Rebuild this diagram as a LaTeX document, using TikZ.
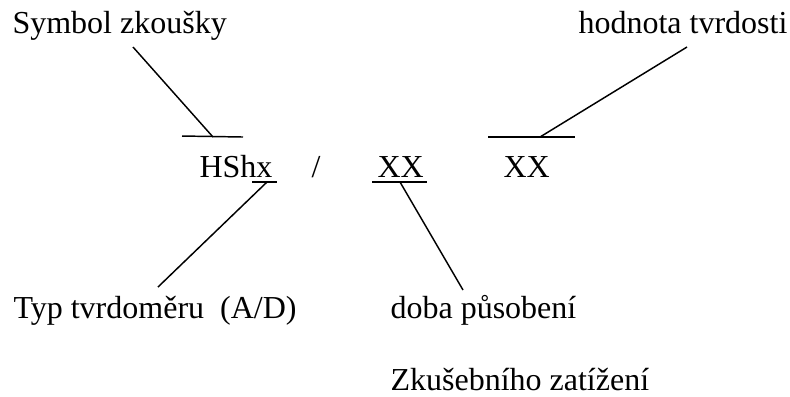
\documentclass[tikz,border=0pt]{standalone}
\usepackage{fontspec}
\setmainfont{LiberationSerif-Regular.ttf}
\usepackage{tikz}
\usetikzlibrary{positioning}

\begin{document}
\begin{tikzpicture}[
    x=0.375pt, y=-0.375pt,
    every node/.style={
        inner sep=0pt, anchor=base west,
        font=\fontsize{12}{14}\selectfont
    },
    mark line/.style={line width=0.55pt}
]
    \useasboundingbox (0,0) rectangle (790,396);
    % labels
    \node (sym) at (12,33) {Symbol zkoušky};
    \node (hod) at (578,33) {hodnota tvrdosti};
    \node (typ) at (13,318) {Typ tvrdoměru~~(A/D)};
    \node (doba) at (390,318) {doba působení};
    \node (zat) at (390,390) {Zkušebního zatížení};
    % the designation itself
    \node (hs) at (199,177) {HShx};
    \node (sl) at (311,177) {/};
    \node (xa) at (377,177) {XX};
    \node (xb) at (503,177) {XX};
    % bars and where the leaders meet them
    \coordinate (symA) at (133,47);
    \coordinate (symJ) at (213,137);
    \coordinate (hodA) at (687,47);
    \coordinate (hodJ) at (540,137);
    \coordinate (typA) at (158,287);
    \coordinate (typJ) at (267,182);
    \coordinate (dobaA) at (463,290);
    \coordinate (dobaJ) at (400,182);
    \draw[mark line] (182,136) -- (243,137);
    \draw[mark line] (488,137) -- (575,137);
    \draw[mark line] (252,182) -- (277,182);
    \draw[mark line] (372,182) -- (427,182);
    \draw[mark line] (symA) -- (symJ);
    \draw[mark line] (hodA) -- (hodJ);
    \draw[mark line] (typJ) -- (typA);
    \draw[mark line] (dobaJ) -- (dobaA);
\end{tikzpicture}
\end{document}
